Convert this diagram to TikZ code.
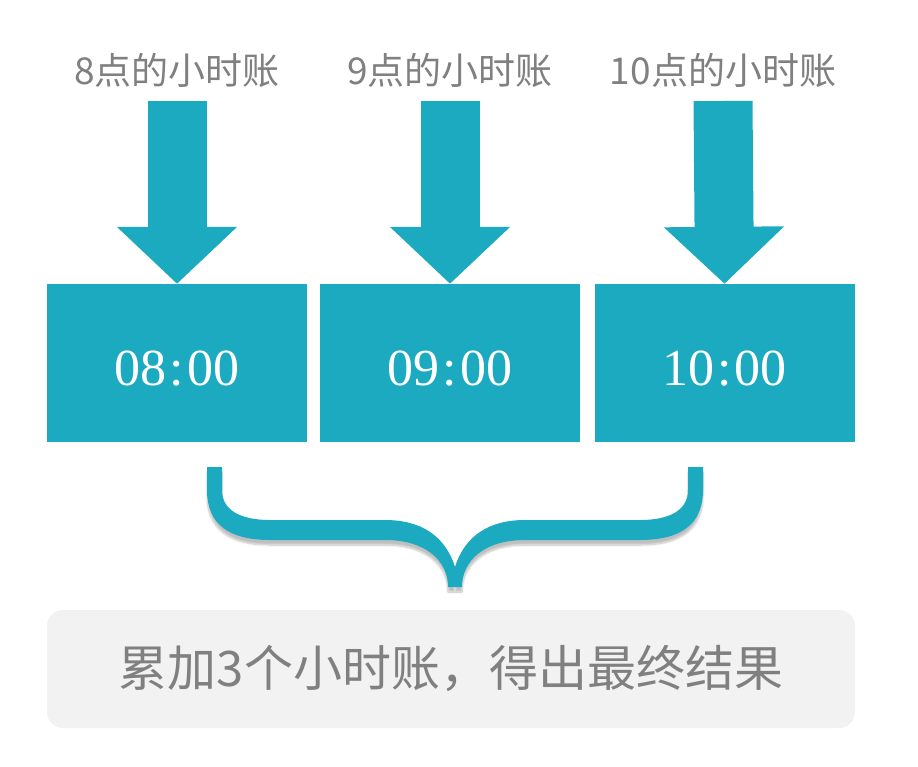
\documentclass[tikz,border=0pt]{standalone}
\usepackage{fontspec}
\setmainfont{Liberation Serif}
\newfontfamily\cjk{Noto Sans CJK SC}
\usetikzlibrary{calc}
\usetikzlibrary{arrows.meta}
\usetikzlibrary{shadows.blur}

\definecolor{hourteal}{RGB}{28,170,193}
\definecolor{labelgray}{RGB}{128,128,128}
\definecolor{sumgray}{RGB}{242,242,242}

\begin{document}
\begin{tikzpicture}[x=1pt, y=-1pt,
    hourbox/.style={fill=hourteal, minimum width=260pt, minimum height=158pt, inner sep=0pt,
        text height=45pt, text depth=0pt, text=white, font=\fontsize{52}{52}\selectfont},
    hourlabel/.style={text=labelgray, font=\cjk\fontsize{37}{37}\selectfont},
    bigarrow/.style={draw=hourteal, line width=59pt, -{Triangle[width=117pt, length=57pt]}},
    sumbox/.style={fill=sumgray, rounded corners=16pt, minimum width=808pt, minimum height=118pt,
        text=labelgray, font=\cjk\fontsize{49}{49}\selectfont}]
    \useasboundingbox (0,0) rectangle (918,766);

    % the three hour boxes
    \node[hourbox] (hour8) at (177,363) {08\kern3pt:\kern3pt00};
    \node[hourbox] (hour9) at (450,363) {09\kern3pt:\kern3pt00};
    \node[hourbox] (hour10) at (724.5,363) {10\kern3pt:\kern3pt00};

    \node[hourlabel] (lab8) at (177,70) {8点的小时账};
    \node[hourlabel] (lab9) at (450,70) {9点的小时账};
    \node[hourlabel] (lab10) at (723,70) {10点的小时账};

    \draw[bigarrow] ([yshift=-31pt]lab8.center) -- (hour8.north);
    \draw[bigarrow] ([yshift=-31pt]lab9.center) -- (hour9.north);
    \draw[bigarrow] ([yshift=-31pt]lab10.center) -- (hour10.north);

    % brace
    \fill[hourteal, blur shadow={shadow xshift=0pt, shadow yshift=-5pt, shadow blur steps=10, shadow opacity=25}]
        (207,467) -- (207,490) .. controls (207,525) and (230,540) .. (270,540) -- (385,540)
        .. controls (425,540) and (448,560) .. (448,587) -- (455,587) -- (455,567)
        .. controls (445,535) and (420,520) .. (385,520) -- (270,520)
        .. controls (240,520) and (222,510) .. (222,490) -- (222,467) -- cycle
        (703,467) -- (703,490) .. controls (703,525) and (680,540) .. (640,540) -- (525,540)
        .. controls (485,540) and (462,560) .. (462,587) -- (455,587) -- (455,567)
        .. controls (465,535) and (490,520) .. (525,520) -- (640,520)
        .. controls (670,520) and (688,510) .. (688,490) -- (688,467) -- cycle;

    \node[sumbox] (total) at (451,669) {累加3个小时账，得出最终结果};
\end{tikzpicture}
\end{document}
